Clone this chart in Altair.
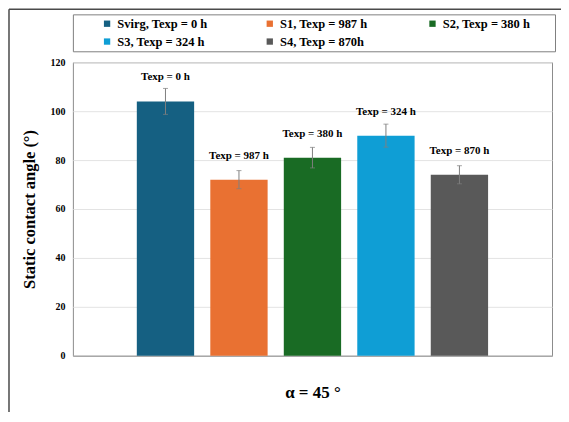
import altair as alt
import pandas as pd

samples = ["Svirg, Texp = 0 h", "S1, Texp = 987 h", "S2, Texp = 380 h", "S3, Texp = 324 h", "S4, Texp =  870h"]
bar_labels = ["Texp = 0 h", "Texp = 987 h", "Texp = 380 h", "Texp = 324 h", "Texp = 870 h"]
angles = [104, 72, 81, 90, 74]
errors = [5.3, 3.7, 4.2, 4.7, 3.7]
colors = ["#156082", "#E97132", "#196B24", "#0F9ED5", "#595959"]

df = pd.DataFrame({"sample": samples, "label": bar_labels, "angle": angles, "err": errors})

FONT = "Liberation Serif"
W, H = 480, 294

base = alt.Chart(df).transform_calculate(
    lo="datum.angle - datum.err", hi="datum.angle + datum.err"
)

x = alt.X("sample:N", sort=samples,
          scale=alt.Scale(paddingInner=0.22, paddingOuter=0.87),
          axis=alt.Axis(labels=False, ticks=False, title="α = 45 °",
                        titleFont=FONT, titleFontSize=17, titleFontWeight="bold",
                        titleColor="#000000", titlePadding=29,
                        domainColor="#9a9a9a"))

bars = base.mark_bar().encode(
    x=x,
    y=alt.Y("angle:Q", scale=alt.Scale(domain=[0, 120]),
            axis=alt.Axis(values=[0, 20, 40, 60, 80, 100, 120], ticks=False,
                          title="Static contact angle (°)",
                          titleFont=FONT, titleFontSize=16.5, titleFontWeight="bold",
                          titleColor="#000000", titlePadding=12,
                          labelFont=FONT, labelFontSize=10, labelFontWeight="bold",
                          labelColor="#000000", labelPadding=8,
                          gridColor="#e3e3e3", domain=False)),
    color=alt.Color("sample:N", sort=samples,
                    scale=alt.Scale(domain=samples, range=colors),
                    legend=alt.Legend(title=" ", titleOrient="right", titlePadding=22,
                                      orient="none", legendX=0, legendY=-48,
                                      columns=3, gridAlign="all", direction="horizontal",
                                      strokeColor="#808080", padding=3,
                                      symbolType="square", symbolSize=40,
                                      symbolOffset=25, labelOffset=4,
                                      labelFont=FONT, labelFontSize=12.5,
                                      labelFontWeight="bold", labelColor="#000000",
                                      rowPadding=5, columnPadding=31))
)

rules = base.mark_rule(color="#7f7f7f", strokeWidth=1).encode(
    x=alt.X("sample:N", sort=samples), y="lo:Q", y2="hi:Q"
)
caps_hi = base.mark_tick(color="#7f7f7f", thickness=1, size=5).encode(
    x=alt.X("sample:N", sort=samples), y="hi:Q"
)
caps_lo = base.mark_tick(color="#7f7f7f", thickness=1, size=5).encode(
    x=alt.X("sample:N", sort=samples), y="lo:Q"
)
texts = base.mark_text(font=FONT, fontSize=11, fontWeight="bold", color="#000000",
                       baseline="middle", dy=-24).encode(
    x=alt.X("sample:N", sort=samples), y="angle:Q", text="label:N"
)

frame_df = pd.DataFrame({"k": [0]})
frame_left = alt.Chart(frame_df).mark_rule(color="#4a4a4a", strokeWidth=1.5).encode(
    x=alt.value(-64), y=alt.value(-53), y2=alt.value(H + 60)
)
frame_top = alt.Chart(frame_df).mark_rule(color="#4a4a4a", strokeWidth=1.5).encode(
    x=alt.value(-64), x2=alt.value(W + 20), y=alt.value(-53)
)

chart = alt.layer(bars, rules, caps_hi, caps_lo, texts, frame_left, frame_top).properties(
    width=W, height=H,
    autosize=alt.AutoSizeParams(type="none"),
    padding={"left": 65, "top": 54, "right": 9, "bottom": 56},
).configure_view(stroke="#8c8c8c", strokeWidth=1)

chart.save("out.html", embed_options={"renderer": "svg", "actions": False})
